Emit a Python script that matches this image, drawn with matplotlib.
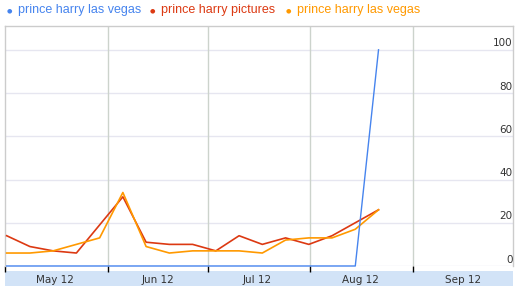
import numpy as np
import pandas as pd
import matplotlib
matplotlib.use("Agg")
from matplotlib import pyplot as plt
import matplotlib.transforms as mtransforms

# weekly points
weeks = pd.date_range("2012-05-01 12:00", periods=17, freq="7D")
las_vegas_blue = [0, 0, 0, 0, 0, 0, 0, 0, 0, 0, 0, 0, 0, 0, 0, 0, 100]
pictures_red = [14, 9, 7, 6, 19, 32, 11, 10, 10, 7, 14, 10, 13, 10, 14, 20, 26]
las_vegas_orange = [6, 6, 7, 10, 13, 34, 9, 6, 7, 7, 7, 6, 12, 13, 13, 17, 26]

series_names = ["prince harry las vegas", "prince harry pictures", "prince harry las vegas"]
colors = ["#4684ee", "#dc3912", "#ff9900"]

month_starts = pd.to_datetime(["2012-05-01", "2012-06-01", "2012-07-01", "2012-08-01", "2012-09-01"])
month_labels = ["May 12", "Jun 12", "Jul 12", "Aug 12", "Sep 12"]
y_ticks = [0, 20, 40, 60, 80, 100]

W, H = 520, 296
fig = plt.figure(figsize=(W / 100, H / 100), dpi=100)
fig.patch.set_facecolor("white")

# light blue band behind the month labels (own axes, drawn first)
band = fig.add_axes([5 / W, (H - 286) / H, 508 / W, 15.5 / H], zorder=0)
band.set_facecolor("#d2e3f7")
band.set_xticks([]); band.set_yticks([])
for s in band.spines.values():
    s.set_visible(False)

# plot area: x 5..513, y 26..266 (pixels from top)
ax = fig.add_axes([5 / W, (H - 266) / H, 508 / W, 240 / H], zorder=1)
ax.patch.set_alpha(0)
ax.set_xlim(pd.Timestamp("2012-05-01"), pd.Timestamp("2012-10-01"))
ax.set_ylim(0, 111)

# grid
for v in y_ticks:
    ax.axhline(v, color="#e6e6f0", lw=1, zorder=1)
for d in month_starts[1:]:
    ax.axvline(d, color="#ccd3cc", lw=1, zorder=1)

for s in ["left", "top", "right"]:
    ax.spines[s].set_color("#cccccc")
    ax.spines[s].set_linewidth(1)
ax.spines["bottom"].set_visible(False)

# lines (blue last, it sits on top in the reference)
ax.plot(weeks, pictures_red, color=colors[1], lw=1.2, zorder=3)
ax.plot(weeks, las_vegas_orange, color=colors[2], lw=1.2, zorder=3)
ax.plot(weeks, las_vegas_blue, color=colors[0], lw=1.0, zorder=4, clip_on=False)

# x ticks: marks at month starts, labels mid-month
ax.set_xticks(month_starts)
ax.set_xticklabels([])
ax.tick_params(axis="x", which="major", length=4, width=1, color="black", direction="out")
mids = [d + pd.Timedelta(days=15) for d in month_starts]
ax.set_xticks(mids, minor=True)
ax.set_xticklabels(month_labels, minor=True, fontsize=7.5, color="#333333", family="DejaVu Sans")
ax.tick_params(axis="x", which="minor", length=0, pad=6.5)

ax.set_yticks([])
trans = mtransforms.blended_transform_factory(ax.transAxes, ax.transData)
for v in y_ticks:
    ax.text(0.999, v + 0.6, str(v), transform=trans, ha="right", va="bottom",
            fontsize=7.5, color="#333333", family="DejaVu Sans")

# legend
legend_x = [9, 152, 288]
for x0, name, c in zip(legend_x, series_names, colors):
    fig.text(x0 / W, (H - 11) / H, "\u25CF", color=c, fontsize=4.5, ha="center", va="center")
    fig.text((x0 + 9) / W, (H - 10.5) / H, name, color=c, fontsize=9,
             family="Liberation Sans", ha="left", va="center")

fig.savefig("out.png", dpi=100)
